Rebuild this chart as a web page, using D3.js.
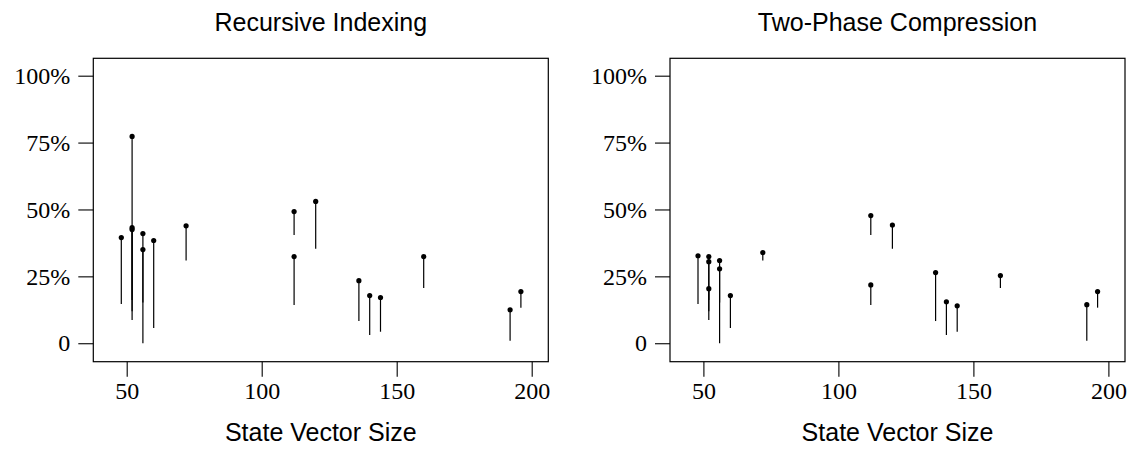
<!DOCTYPE html>
<html>
<head>
<meta charset="utf-8">
<script src="https://cdn.jsdelivr.net/npm/d3@7"></script>
<style>
  html, body { margin: 0; padding: 0; background: #fff; }
  svg { display: block; }
</style>
</head>
<body>
<svg id="chart" width="1130" height="449"></svg>
<script>
// ---- data ----
const panelTitles = ["Recursive Indexing", "Two-Phase Compression"];
const xLabel = "State Vector Size";
const sizes     = [48, 52, 52, 52, 56, 56, 60, 72, 112, 112, 120, 136, 140, 144, 160, 192, 196];
const baseline  = [0.147, 0.162, 0.087, 0.120, 0.152, 0.000, 0.057, 0.309, 0.405, 0.143, 0.353, 0.083, 0.031, 0.043, 0.206, 0.009, 0.133];
const recursive = [0.395, 0.773, 0.432, 0.425, 0.410, 0.350, 0.384, 0.439, 0.492, 0.324, 0.530, 0.234, 0.178, 0.171, 0.324, 0.125, 0.193];
const twoPhase  = [0.327, 0.305, 0.324, 0.204, 0.309, 0.278, 0.178, 0.339, 0.477, 0.218, 0.442, 0.264, 0.155, 0.140, 0.253, 0.144, 0.193];
const xTicks = [50, 100, 150, 200];
const yTicks = [0, 0.25, 0.5, 0.75, 1];
const yTickLabels = ["0", "25%", "50%", "75%", "100%"];

// ---- layout ----
const svg = d3.select("#chart");
const panels = [
  { title: panelTitles[0], values: recursive, left: 93.3 },
  { title: panelTitles[1], values: twoPhase,  left: 670 }
];
const boxW = 455, boxTop = 58.3, boxBottom = 361.7;
const xDomain = [37.63, 206.15];
const yDomain = [-0.069, 1.065];

panels.forEach(p => {
  const x = d3.scaleLinear().domain(xDomain).range([p.left, p.left + boxW]);
  const y = d3.scaleLinear().domain(yDomain).range([boxBottom, boxTop]);
  const g = svg.append("g");

  // box
  g.append("rect")
    .attr("x", p.left).attr("y", boxTop)
    .attr("width", boxW).attr("height", boxBottom - boxTop)
    .attr("fill", "none").attr("stroke", "#000").attr("stroke-width", 1.2);

  // y axis
  const yAxis = d3.axisLeft(y).tickValues(yTicks)
    .tickFormat((d, i) => yTickLabels[i]).tickSize(15).tickPadding(8);
  const ya = g.append("g").attr("transform", `translate(${p.left},0)`).call(yAxis);
  ya.select(".domain").remove();
  ya.selectAll("line").attr("stroke", "#000").attr("stroke-width", 1.1);
  ya.selectAll("text").attr("font-family", "'Liberation Serif', 'Times New Roman', serif")
    .attr("font-size", 24).attr("fill", "#000");

  // x axis
  const xAxis = d3.axisBottom(x).tickValues(xTicks).tickSize(15).tickPadding(5);
  const xa = g.append("g").attr("transform", `translate(0,${boxBottom})`).call(xAxis);
  xa.select(".domain").remove();
  xa.selectAll("line").attr("stroke", "#000").attr("stroke-width", 1.1);
  xa.selectAll("text").attr("font-family", "'Liberation Serif', 'Times New Roman', serif")
    .attr("font-size", 24).attr("fill", "#000");

  // title
  g.append("text")
    .attr("x", p.left + boxW / 2).attr("y", 31)
    .attr("text-anchor", "middle")
    .attr("font-family", "'Liberation Sans', Arial, sans-serif")
    .attr("font-size", 25).attr("fill", "#000")
    .text(p.title);

  // x label
  g.append("text")
    .attr("x", p.left + boxW / 2).attr("y", 441)
    .attr("text-anchor", "middle")
    .attr("font-family", "'Liberation Sans', Arial, sans-serif")
    .attr("font-size", 25).attr("fill", "#000")
    .text(xLabel);

  const data = sizes.map((s, i) => ({ s, lo: baseline[i], v: p.values[i] }));

  g.selectAll("line.seg").data(data).enter().append("line")
    .attr("class", "seg")
    .attr("x1", d => x(d.s)).attr("x2", d => x(d.s))
    .attr("y1", d => y(d.lo)).attr("y2", d => y(d.v))
    .attr("stroke", "#000").attr("stroke-width", 1.2);

  g.selectAll("circle.pt").data(data).enter().append("circle")
    .attr("class", "pt")
    .attr("cx", d => x(d.s)).attr("cy", d => y(d.v))
    .attr("r", 2.6).attr("fill", "#000");
});
</script>
</body>
</html>
